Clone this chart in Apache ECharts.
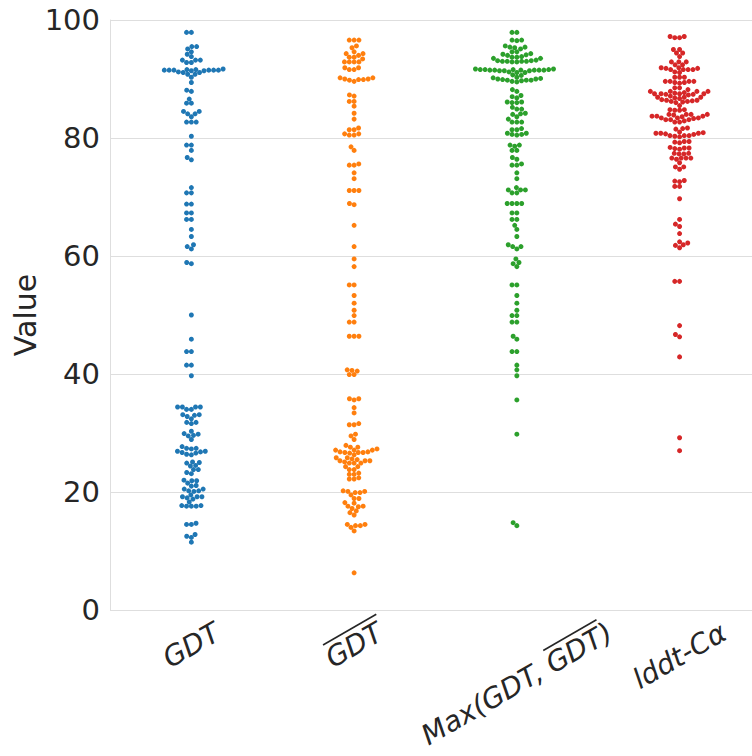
<!DOCTYPE html>
<html>
<head>
<meta charset="utf-8">
<script src="https://cdn.jsdelivr.net/npm/echarts@6/dist/echarts.min.js"></script>
<style>
  html, body { margin: 0; padding: 0; background: #ffffff; }
  #chart { width: 752px; height: 756px; }
</style>
</head>
<body>
<div id="chart"></div>
<script>
// Category names shown under the x axis; overlineSpans marks [start, end) characters drawn with a bar on top
const categories = ['GDT', 'GDT', 'Max(GDT, GDT)', 'lddt-Cα'];
const overlineSpans = [null, [0, 3], [9, 12], null];

// y-axis ticks
const yTicks = [0, 20, 40, 60, 80, 100];

// Scores per metric (one value per target)
const gdt = [
  97.9, 97.9, 95.5, 95.5, 95.1, 94.6, 94.2, 93.8, 93.2, 93.2, 93.2, 92.8, 92.8,
  91.6, 91.5, 91.5, 91.4, 91.1, 91.6, 91.2, 91.5, 91.1, 91.4, 91.5, 91.5, 91.5, 91.7,
  90.8, 90.3, 90.8, 89.4, 88.1, 87.9, 86.6, 85.9, 85.9, 84.5, 84.5, 84.1, 83.6, 84.1,
  82.7, 82.7, 82.7, 80.3, 78.8, 78.8, 77.9, 76.7, 76.3,
  71.6, 70.7, 70.7, 68.8, 68.8, 67.3, 67.3, 66.2, 66.2, 64.5, 63.3, 61.9, 61.6, 61.2, 58.9, 58.7,
  50.0, 45.9, 43.8, 43.8, 41.5, 41.5, 39.7,
  34.4, 34.4, 34.0, 34.0, 34.4, 34.4, 33.1, 32.8, 32.4, 33.0, 33.1, 31.8, 31.6, 31.8,
  30.3, 29.9, 29.5, 29.6, 29.8, 28.9,
  27.4, 27.3, 27.4, 27.7, 26.9, 26.7, 26.4, 26.3, 26.6, 26.8, 26.9,
  25.0, 25.1, 24.9, 24.5, 24.4, 23.8, 23.8, 23.3, 23.1,
  21.9, 21.9, 22.0, 21.1, 21.0, 21.5, 20.5, 20.2, 20.1, 20.2, 20.5,
  19.2, 19.2, 19.0, 19.5, 18.8, 19.2, 18.3, 17.7, 17.6, 17.6, 17.6, 17.7,
  14.5, 14.5, 14.7, 12.5, 12.3, 12.8, 11.5
];

const gdtBar = [
  96.6, 96.6, 96.6, 95.6, 95.3, 94.6, 94.3, 94.3, 94.0, 93.7, 93.7, 93.4,
  92.9, 92.9, 92.9, 92.9, 91.9, 91.6, 91.6, 91.9,
  90.2, 90.2, 89.9, 89.8, 89.6, 89.9, 90.0, 90.0,
  87.3, 87.1, 86.2, 86.2, 85.4, 84.2, 83.2, 81.7, 81.4, 81.4, 80.7, 80.5, 80.5, 80.7,
  78.5, 77.9, 75.4, 75.4, 75.6, 74.1, 73.1, 71.1, 71.1, 71.1, 68.9, 68.7,
  65.2, 61.6, 59.5, 58.2, 55.1, 55.1, 53.3, 52.0, 50.8, 49.9, 48.8, 48.8, 46.4, 46.4, 46.4,
  40.7, 40.5, 40.6, 39.9, 39.9, 35.8, 35.6, 35.8, 34.3, 33.4, 31.6, 31.4, 31.4,
  29.8, 29.5, 28.9,
  27.9, 27.3, 27.6, 27.6, 27.1, 27.1, 26.8, 26.7, 26.6, 26.7, 26.7, 26.8, 27.1, 26.3,
  25.8, 25.3, 25.1, 24.9, 24.9, 25.8, 25.6, 24.9, 25.3, 25.3, 25.5,
  24.3, 23.8, 23.8, 24.3, 23.2, 23.0, 23.0, 22.2, 22.2, 22.4,
  20.1, 19.9, 19.5, 19.9, 20.1, 20.2, 18.9, 18.9,
  18.2, 17.6, 17.5, 18.1, 17.6, 17.2, 16.5, 16.8, 16.1,
  14.5, 14.0, 14.3, 14.3, 14.5, 13.4, 6.3
];

const gdtMax = [
  97.9, 97.9, 96.6, 96.5, 96.6, 95.6, 95.4, 95.1, 95.3, 95.4,
  94.6, 94.6, 94.1, 94.0, 93.7, 93.8, 93.7, 94.2, 94.3,
  93.1, 93.0, 93.0, 92.9, 92.9, 93.0, 93.0, 93.1, 93.2, 93.5, 93.5,
  91.7, 91.6, 91.5, 91.5, 91.5, 91.4, 91.1, 91.6, 91.1, 91.5, 91.6, 91.2, 91.4, 91.4, 91.5, 91.5, 91.6, 91.7,
  90.6, 90.3, 90.7, 89.5, 89.8, 90.1, 90.0, 89.8, 89.6, 89.7, 89.8, 89.9, 90.0, 90.2,
  88.2, 87.9, 87.0, 86.8, 87.2, 86.1, 86.0, 86.0, 86.1, 84.9, 84.9, 85.2, 84.2, 84.0, 84.1, 83.6,
  83.2, 82.7, 82.7, 82.7, 81.6, 81.4, 81.4, 80.8, 80.6, 80.5, 80.6, 80.8,
  78.8, 78.8, 78.6, 77.9, 77.9, 76.7, 76.4, 75.6, 75.4, 75.4, 74.1, 73.1,
  71.6, 71.2, 70.7, 70.7, 71.2, 71.2, 68.9, 68.9, 68.9, 68.9, 67.3, 67.3, 66.2, 66.2,
  65.2, 64.5, 63.3, 61.9, 61.6, 61.6, 61.2, 59.5, 58.9, 58.7, 58.2,
  55.1, 55.1, 53.3, 52.0, 50.8, 49.9, 49.9, 48.8, 48.8, 46.4, 45.9, 43.8, 43.8,
  41.5, 40.7, 39.7, 35.6, 29.8, 14.8, 14.3
];

const lddt = [
  97.2, 97.0, 97.0, 97.2, 95.0, 95.0, 94.4, 94.4, 93.8,
  92.9, 92.4, 92.4, 92.9, 92.9,
  91.9, 91.6, 91.1, 91.6, 91.6, 91.6, 91.2, 91.8, 91.8, 91.9,
  90.3, 90.3, 90.3, 89.6, 89.4, 89.4, 89.3, 89.6, 89.6, 89.6,
  88.5, 88.5, 87.9, 88.2, 87.9, 87.9,
  87.5, 87.5, 87.4, 87.6, 87.5, 87.3, 87.5, 87.7, 87.9, 87.4,
  86.9, 86.9, 86.8, 86.7, 86.9, 87.1,
  86.5, 86.2, 86.1, 86.0, 86.2, 86.3, 86.4, 86.4, 85.5,
  84.7, 84.7, 84.8, 84.8,
  84.0, 84.0, 83.7, 83.6, 83.7, 84.0, 83.7, 83.9, 83.4, 84.0,
  83.4, 83.3, 83.1, 82.9, 83.4, 83.1, 83.1, 82.7, 82.7,
  81.7, 81.5, 81.6, 80.8, 80.8, 80.8, 80.7, 80.6, 80.4, 80.4, 80.9, 81.0, 80.3, 80.2, 80.4,
  79.2, 79.3, 79.4, 79.4, 78.3, 78.2, 78.1, 78.4, 78.3,
  77.3, 77.3, 77.4, 77.4, 76.6, 76.4, 76.6, 76.6, 76.6, 75.8,
  75.1, 74.7, 75.1, 72.7, 72.6, 72.8, 71.8, 71.8,
  69.7, 66.2, 65.4, 65.0, 63.8, 62.4, 61.8, 61.4, 61.9, 62.2,
  55.7, 55.7, 48.2, 46.7, 46.3, 42.9, 29.2, 27.0
];

const seriesValues = [gdt, gdtBar, gdtMax, lddt];
const colors = ['#1f77b4', '#ff7f0e', '#2ca02c', '#d62728'];

const TEXT = '#262626';
const GRID_LINE = '#dedede';
const FONT_FAMILY = '"DejaVu Sans", "Liberation Sans", sans-serif';
const TICK_SIZE = 29;
const LABEL_SIZE = 28;
const LABEL_ANGLE = 30 * Math.PI / 180;
const DOT_SIZE = 5;      // marker diameter, px
const SWARM_GAP = 4.6;   // minimum centre distance used by the swarm layout, px
// The last category column runs past the right edge of the canvas,
// so the visible x range ends before categories.length - 0.5.
const X_VISIBLE_MAX = 3.445;

const chart = echarts.init(document.getElementById('chart'), null, { renderer: 'svg' });

chart.setOption({
  backgroundColor: '#ffffff',
  animation: false,
  grid: { left: 110, right: 0, top: 20, bottom: 146, outerBoundsMode: 'none', containLabel: false },
  xAxis: {
    type: 'value', min: -0.5, max: X_VISIBLE_MAX,
    axisLine: { show: false }, axisTick: { show: false },
    axisLabel: { show: false }, splitLine: { show: false }
  },
  yAxis: {
    type: 'value',
    min: yTicks[0], max: yTicks[yTicks.length - 1], interval: yTicks[1] - yTicks[0],
    name: 'Value', nameLocation: 'middle', nameGap: 70, nameMoveOverlap: false,
    nameTextStyle: { fontSize: 30, color: TEXT, fontFamily: FONT_FAMILY },
    axisLine: { show: true, onZero: false, lineStyle: { color: GRID_LINE, width: 1 } },
    axisTick: { show: false },
    axisLabel: { fontSize: TICK_SIZE, color: TEXT, fontFamily: FONT_FAMILY, margin: 10 },
    splitLine: { show: true, lineStyle: { color: GRID_LINE, width: 1 } }
  },
  series: []
});

// Pixel scale of each axis, read back from the chart
const pxPerX = chart.convertToPixel({ xAxisIndex: 0 }, 1) - chart.convertToPixel({ xAxisIndex: 0 }, 0);
const pxPerY = chart.convertToPixel({ yAxisIndex: 0 }, 0) - chart.convertToPixel({ yAxisIndex: 0 }, 1);

// Beeswarm layout: points are placed from low to high value, each at the
// candidate offset closest to the centre line that does not overlap earlier ones.
function swarmOffsets(values, gap) {
  const order = values.map((v, i) => i).sort((a, b) => values[a] - values[b]);
  const placed = [];
  const offsets = new Array(values.length);
  for (const i of order) {
    const y = values[i] * pxPerY;
    const near = placed.filter(p => Math.abs(p.y - y) < gap);
    const cands = [0];
    let leftFirst = true;
    for (const p of near) {
      const dy = y - p.y;
      const dx = Math.sqrt(Math.max(gap * gap - dy * dy, 0)) * 1.05;
      if (leftFirst) cands.push(p.x - dx, p.x + dx); else cands.push(p.x + dx, p.x - dx);
      leftFirst = !leftFirst;
    }
    const ranked = cands.map((c, k) => [Math.abs(c), k, c])
      .sort((a, b) => (a[0] - b[0]) || (a[1] - b[1]));
    let x = 0;
    for (const r of ranked) {
      const c = r[2];
      if (near.every(p => (p.x - c) ** 2 + (p.y - y) ** 2 >= gap * gap * 0.999)) { x = c; break; }
    }
    placed.push({ x, y });
    offsets[i] = x;
  }
  return offsets;
}

const labelFont = `italic ${LABEL_SIZE}px ${FONT_FAMILY}`;
const measureCtx = document.createElement('canvas').getContext('2d');
function textWidth(s) { measureCtx.font = labelFont; return measureCtx.measureText(s).width; }

const swarmSeries = seriesValues.map((vals, ci) => {
  const offs = swarmOffsets(vals, SWARM_GAP);
  return {
    type: 'scatter',
    name: categories[ci],
    symbol: 'circle',
    symbolSize: DOT_SIZE,
    itemStyle: { color: colors[ci], opacity: 1 },
    data: vals.map((v, k) => [ci + offs[k] / pxPerX, v]),
    silent: true
  };
});

// Rotated, italic category labels centred under each category position
const labelSeries = {
  type: 'custom',
  silent: true,
  clip: false,
  z: 10,
  data: categories.map((c, i) => [i, yTicks[0]]),
  renderItem: function (params, api) {
    const i = params.dataIndex;
    const p = api.coord([api.value(0), api.value(1)]);
    const text = categories[i];
    const w = textWidth(text);
    const cy = p[1] + 8 + (w * Math.sin(LABEL_ANGLE) + LABEL_SIZE * Math.cos(LABEL_ANGLE)) / 2;
    const children = [{
      type: 'text',
      style: { text: text, x: 0, y: 0, align: 'center', verticalAlign: 'middle', font: labelFont, fill: TEXT }
    }];
    const span = overlineSpans[i];
    if (span) {
      const x0 = -w / 2 + textWidth(text.slice(0, span[0])) + 0.12 * LABEL_SIZE;
      const x1 = -w / 2 + textWidth(text.slice(0, span[1])) + 0.16 * LABEL_SIZE;
      const yy = -0.56 * LABEL_SIZE;
      children.push({
        type: 'line',
        shape: { x1: x0, y1: yy, x2: x1, y2: yy },
        style: { stroke: TEXT, lineWidth: 1.6 }
      });
    }
    return { type: 'group', x: p[0], y: cy, rotation: LABEL_ANGLE, children: children };
  }
};

chart.setOption({ series: swarmSeries.concat([labelSeries]) });
</script>
</body>
</html>
